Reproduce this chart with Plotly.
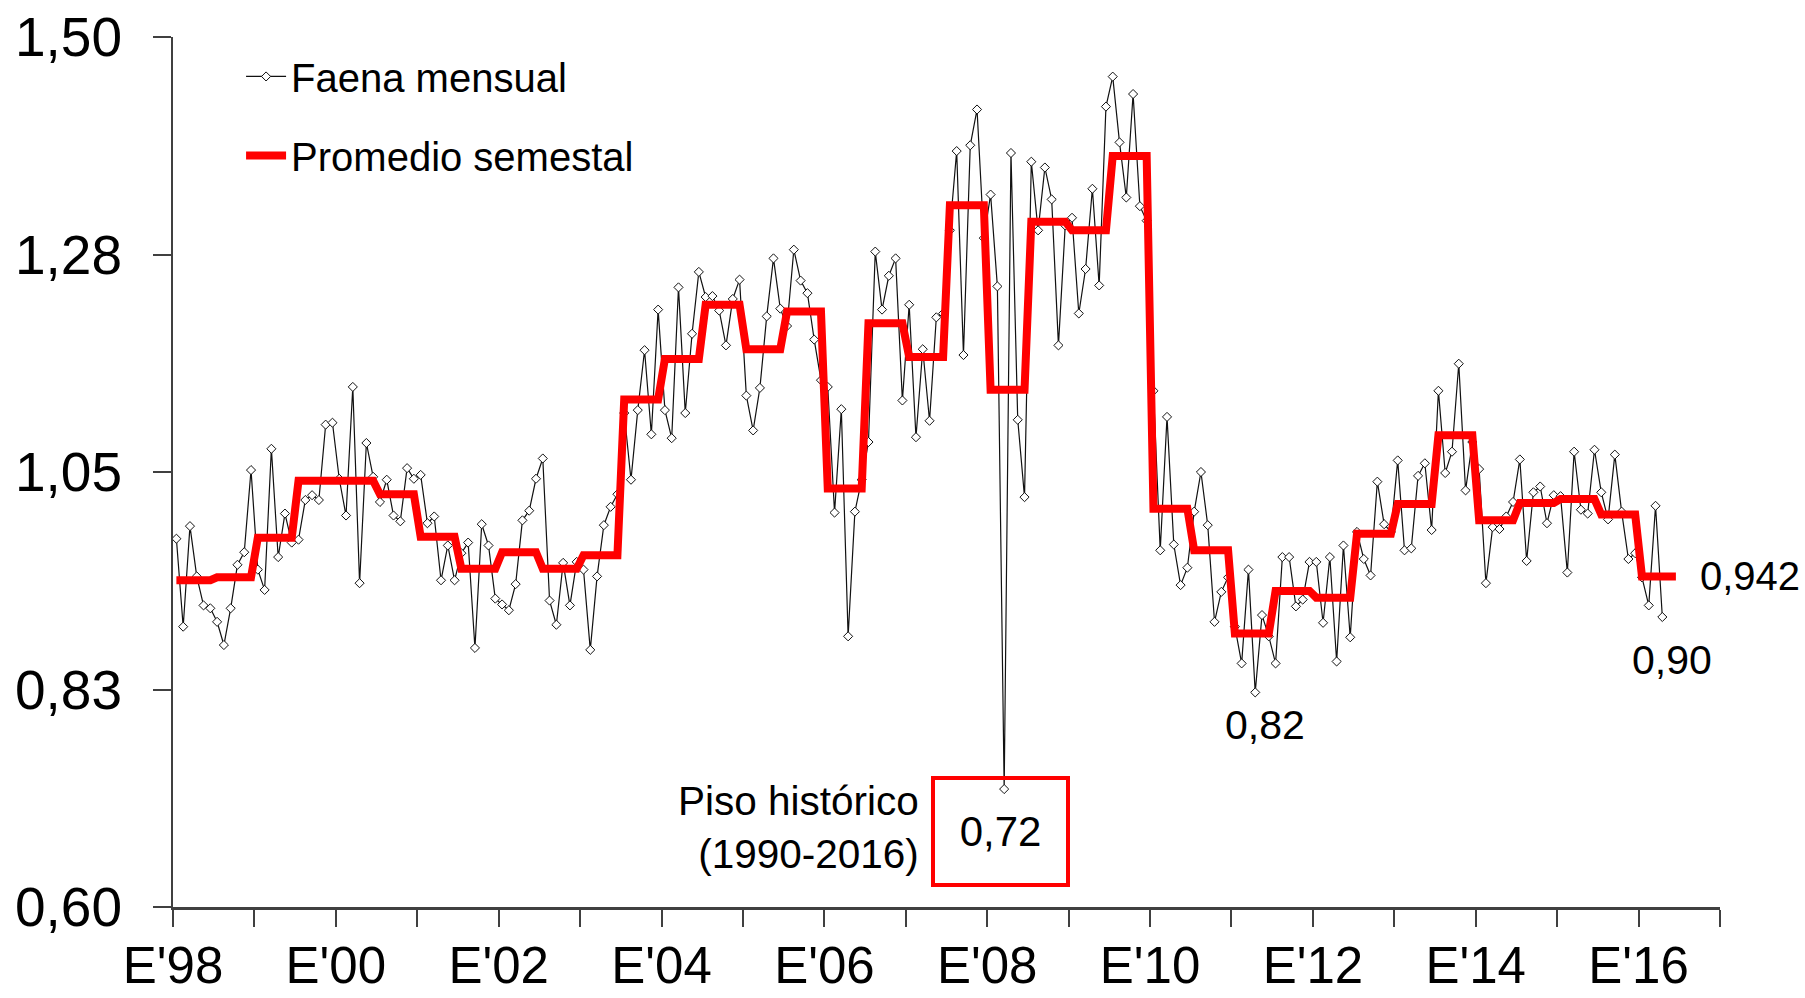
import plotly.graph_objects as go

# Monthly slaughter ratio, Jan 1998 .. Apr 2016
faena_mensual = [
    0.981, 0.890, 0.994, 0.942, 0.912, 0.909, 0.895, 0.871, 0.909, 0.954, 0.967, 1.052,  # 1998
    0.949, 0.928, 1.074, 0.962, 1.007, 0.977, 0.980, 1.021, 1.026, 1.021, 1.099, 1.101,  # 1999
    1.043, 1.005, 1.138, 0.935, 1.080, 1.045, 1.019, 1.042, 1.005, 0.999, 1.054, 1.043,  # 2000
    1.047, 0.997, 1.004, 0.938, 0.974, 0.938, 0.966, 0.977, 0.868, 0.996, 0.974, 0.919,  # 2001
    0.913, 0.907, 0.934, 1.000, 1.010, 1.043, 1.064, 0.917, 0.892, 0.956, 0.912, 0.957,  # 2002
    0.949, 0.866, 0.942, 0.995, 1.014, 1.027, 1.111, 1.042, 1.114, 1.176, 1.089, 1.218,  # 2003
    1.114, 1.085, 1.241, 1.111, 1.193, 1.257, 1.231, 1.232, 1.217, 1.181, 1.229, 1.249,  # 2004
    1.129, 1.093, 1.137, 1.211, 1.271, 1.219, 1.201, 1.280, 1.248, 1.235, 1.187, 1.145,  # 2005
    1.138, 1.008, 1.115, 0.880, 1.009, 1.042, 1.081, 1.278, 1.218, 1.253, 1.271, 1.124,  # 2006
    1.223, 1.086, 1.177, 1.103, 1.210, 1.214, 1.300, 1.382, 1.171, 1.388, 1.425, 1.292,  # 2007
    1.337, 1.242, 0.722, 1.380, 1.104, 1.024, 1.371, 1.300, 1.365, 1.332, 1.181, 1.305,  # 2008
    1.313, 1.214, 1.260, 1.343, 1.243, 1.428, 1.459, 1.391, 1.334, 1.441, 1.325, 1.310,  # 2009
    1.134, 0.969, 1.107, 0.975, 0.933, 0.951, 1.009, 1.050, 0.995, 0.895, 0.926, 0.941,  # 2010
    0.890, 0.852, 0.949, 0.822, 0.902, 0.880, 0.852, 0.962, 0.962, 0.911, 0.918, 0.957,  # 2011
    0.957, 0.894, 0.962, 0.854, 0.974, 0.879, 0.988, 0.960, 0.943, 1.040, 0.996, 0.988,  # 2012
    1.062, 0.969, 0.971, 1.046, 1.059, 0.990, 1.134, 1.049, 1.071, 1.162, 1.031, 1.081,  # 2013
    1.053, 0.935, 0.993, 0.991, 1.004, 1.019, 1.063, 0.958, 1.029, 1.035, 0.997, 1.026,  # 2014
    1.025, 0.946, 1.071, 1.011, 1.007, 1.073, 1.029, 1.001, 1.068, 1.009, 0.960, 0.966,  # 2015
    0.941, 0.912, 1.015, 0.900,                                                          # 2016
]

# Semester averages, 1998-I .. 2016-I
promedio_semestral = [
    0.938, 0.941, 0.982, 1.041, 1.041, 1.027, 0.983, 0.950, 0.967, 0.950,
    0.964, 1.125, 1.167, 1.223, 1.177, 1.216, 1.033, 1.204, 1.169, 1.326,
    1.135, 1.309, 1.300, 1.377, 1.012, 0.969, 0.883, 0.927, 0.920, 0.986,
    1.017, 1.088, 1.000, 1.018, 1.022, 1.006, 0.942,
]

# one tick per January, 1998 .. 2017
x_tick_labels = ["E'98", "", "E'00", "", "E'02", "", "E'04", "", "E'06", "",
                 "E'08", "", "E'10", "", "E'12", "", "E'14", "", "E'16", ""]
y_tick_values = [0.60, 0.825, 1.05, 1.275, 1.50]
y_tick_labels = ["0,60", "0,83", "1,05", "1,28", "1,50"]

piso_valor = 0.72
ultimo_promedio = "0,942"

MONTHS_PER_SEM = 6
months_x = list(range(len(faena_mensual)))
sem_x = list(range(len(promedio_semestral) * MONTHS_PER_SEM))
sem_y = [v for v in promedio_semestral for _ in range(MONTHS_PER_SEM)]

piso_idx = min(range(len(faena_mensual)), key=lambda i: faena_mensual[i])
min_2011_idx = min(range(150, 170), key=lambda i: faena_mensual[i])
last_idx = len(faena_mensual) - 1

FONT = "Liberation Sans, Arial, sans-serif"

fig = go.Figure()
fig.add_trace(go.Scatter(
    x=months_x, y=faena_mensual, mode="lines+markers", name="Faena mensual",
    line=dict(color="#111111", width=1.2),
    marker=dict(symbol="diamond", size=7, color="white", line=dict(color="#111111", width=1)),
    legendgroup="a",
))
fig.add_trace(go.Scatter(
    x=sem_x, y=sem_y, mode="lines", name="Promedio semestal",
    line=dict(color="#ff0000", width=8),
    legendgroup="b",
))

n_ticks = len(x_tick_labels)
fig.update_xaxes(
    range=[-0.5, (n_ticks - 1) * 12 - 0.5],
    tickmode="array",
    tickvals=[-0.5 + 12 * k for k in range(n_ticks)],
    ticktext=x_tick_labels,
    ticks="outside", ticklen=17, tickwidth=2, tickcolor="#404040",
    showline=True, linewidth=3, linecolor="#404040",
    showgrid=False, zeroline=False, automargin=False,
    tickfont=dict(family=FONT, size=51, color="black"),
    ticklabelstandoff=-5,
)
fig.update_yaxes(
    range=[0.6, 1.5],
    tickmode="array", tickvals=y_tick_values, ticktext=y_tick_labels,
    ticks="outside", ticklen=18, tickwidth=2, tickcolor="#404040",
    showline=True, linewidth=2, linecolor="#404040",
    showgrid=False, zeroline=False, automargin=False,
    tickfont=dict(family=FONT, size=55, color="black"),
    ticklabelstandoff=20,
)

ann_font = dict(family=FONT, size=41, color="black")
fig.add_annotation(x=piso_idx, y=faena_mensual[piso_idx], xref="x", yref="y",
                   text=f"{piso_valor:.2f}".replace(".", ","), showarrow=False,
                   xanchor="center", yanchor="top", xshift=-4, yshift=13,
                   width=125, height=97, borderpad=3, borderwidth=4,
                   bordercolor="#ff0000", font=dict(family=FONT, size=42, color="black"))
fig.add_annotation(x=piso_idx, y=faena_mensual[piso_idx], xref="x", yref="y",
                   text="Piso histórico<br>(1990-2016)", showarrow=False,
                   xanchor="right", yanchor="middle", align="right",
                   xshift=-83, yshift=-38, font=dict(family=FONT, size=40.5, color="black"))
fig.add_annotation(x=min_2011_idx, y=faena_mensual[min_2011_idx], xref="x", yref="y",
                   text=f"{faena_mensual[min_2011_idx]:.2f}".replace(".", ","), showarrow=False,
                   xanchor="center", yanchor="middle", xshift=10, yshift=-33, font=ann_font)
fig.add_annotation(x=last_idx, y=faena_mensual[last_idx], xref="x", yref="y",
                   text=f"{faena_mensual[last_idx]:.2f}".replace(".", ","), showarrow=False,
                   xanchor="center", yanchor="middle", xshift=10, yshift=-43, font=ann_font)
fig.add_annotation(x=sem_x[-1], y=sem_y[-1], xref="x", yref="y",
                   text=ultimo_promedio, showarrow=False,
                   xanchor="left", yanchor="middle", xshift=22, yshift=0,
                   font=dict(family=FONT, size=40, color="black"))

fig.update_layout(
    width=1805, height=998,
    margin=dict(l=173, r=85, t=37, b=91),
    paper_bgcolor="white", plot_bgcolor="white",
    showlegend=True,
    legend=dict(x=0.044, y=0.992, xanchor="left", yanchor="top",
                font=dict(family=FONT, size=40, color="black"),
                bgcolor="rgba(0,0,0,0)", traceorder="grouped", tracegroupgap=24,
                itemwidth=40),
)

fig.write_html("out.html",
               config={"displayModeBar": False},
               post_script="document.body.style.margin='0';document.body.style.overflow='hidden';")
